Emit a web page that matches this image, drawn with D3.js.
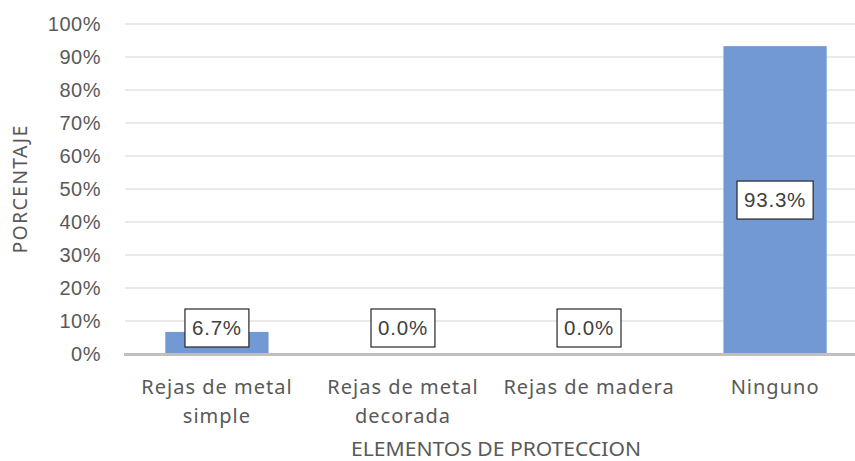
<!DOCTYPE html>
<html>
<head>
<meta charset="utf-8">
<script src="https://cdn.jsdelivr.net/npm/d3@7"></script>
<style>
  body { margin: 0; background: #fff; }
  svg { display: block; }
</style>
</head>
<body>
<script>
// chart data
const categories = [['Rejas de metal', 'simple'], ['Rejas de metal', 'decorada'], ['Rejas de madera'], ['Ninguno']];
const values = [6.7, 0.0, 0.0, 93.3];
const yTicks = [0, 10, 20, 30, 40, 50, 60, 70, 80, 90, 100];

const WIDTH = 855;
const HEIGHT = 461;

const svg = d3.select('body')
  .append('svg')
    .attr('width', WIDTH)
    .attr('height', HEIGHT);

const x = d3.scaleBand()
    .domain(d3.range(values.length))
    .range([124, 868])
    .paddingInner(0.445)
    .paddingOuter(0.222);

const y = d3.scaleLinear()
    .domain([0, 100])
    .range([354, 24]);

// gridlines
svg.append('g')
  .selectAll('line')
  .data(yTicks.slice(1))
  .enter()
  .append('line')
    .attr('x1', 125)
    .attr('x2', WIDTH)
    .attr('y1', d => y(d))
    .attr('y2', d => y(d))
    .attr('stroke', '#e3e3e3')
    .attr('stroke-width', 1.5);

// y tick labels
svg.append('g')
  .selectAll('text')
  .data(yTicks)
  .enter()
  .append('text')
    .attr('x', 101)
    .attr('y', d => y(d))
    .attr('dy', '0.36em')
    .attr('text-anchor', 'end')
    .attr('font-family', 'Liberation Sans, Arial, sans-serif')
    .attr('font-size', 20)
    .attr('letter-spacing', 0.5)
    .attr('fill', '#595959')
    .text(d => d + '%');

// bars
svg.append('g')
  .selectAll('rect')
  .data(values)
  .enter()
  .append('rect')
    .attr('x', (d, i) => x(i))
    .attr('y', d => y(d))
    .attr('width', x.bandwidth())
    .attr('height', d => y(0) - y(d))
    .attr('fill', '#7399d4');

// baseline
svg.append('line')
    .attr('x1', 124)
    .attr('x2', WIDTH)
    .attr('y1', y(0) + 0.5)
    .attr('y2', y(0) + 0.5)
    .attr('stroke', '#bfbfbf')
    .attr('stroke-width', 3);

// data labels in boxes
const labels = svg.append('g')
  .selectAll('g')
  .data(values)
  .enter()
  .append('g')
    .attr('transform', (d, i) => {
      const cy = Math.min(y(d / 2), y(0) - 26);
      return `translate(${x(i) + x.bandwidth() / 2}, ${cy})`;
    });

labels.append('rect')
    .attr('fill', '#fff')
    .attr('stroke', '#262626')
    .attr('stroke-width', 1.2);

labels.append('text')
    .attr('text-anchor', 'middle')
    .attr('dy', '0.36em')
    .attr('font-family', 'Liberation Sans, Arial, sans-serif')
    .attr('font-size', 20.5)
    .attr('letter-spacing', 0.8)
    .attr('fill', '#404040')
    .text(d => d.toFixed(1) + '%');

// size boxes around the label text
labels.each(function () {
  const g = d3.select(this);
  const bb = g.select('text').node().getBBox();
  const w = bb.width + 14;
  g.select('rect')
      .attr('x', -w / 2)
      .attr('y', -19)
      .attr('width', w)
      .attr('height', 38);
});

// category labels
const cat = svg.append('g')
  .selectAll('text')
  .data(categories)
  .enter()
  .append('text')
    .attr('x', (d, i) => x(i) + x.bandwidth() / 2)
    .attr('y', 394)
    .attr('text-anchor', 'middle')
    .attr('font-family', 'Noto Sans, sans-serif')
    .attr('font-size', 20)
    .attr('letter-spacing', 1)
    .attr('fill', '#595959');

cat.selectAll('tspan')
  .data(d => d)
  .enter()
  .append('tspan')
    .attr('x', function () { return d3.select(this.parentNode).attr('x'); })
    .attr('dy', (d, i) => i === 0 ? 0 : 29)
    .text(d => d);

// axis titles
svg.append('text')
    .attr('x', 496)
    .attr('y', 456)
    .attr('text-anchor', 'middle')
    .attr('font-family', 'Noto Sans, sans-serif')
    .attr('font-size', 20)
    .attr('textLength', 290)
    .attr('lengthAdjust', 'spacingAndGlyphs')
    .attr('fill', '#595959')
    .text('ELEMENTOS DE PROTECCION');

svg.append('text')
    .attr('transform', 'translate(27, 189) rotate(-90)')
    .attr('text-anchor', 'middle')
    .attr('font-family', 'Noto Sans, sans-serif')
    .attr('font-size', 19.5)
    .attr('letter-spacing', 1.3)
    .attr('fill', '#595959')
    .text('PORCENTAJE');
</script>
</body>
</html>
